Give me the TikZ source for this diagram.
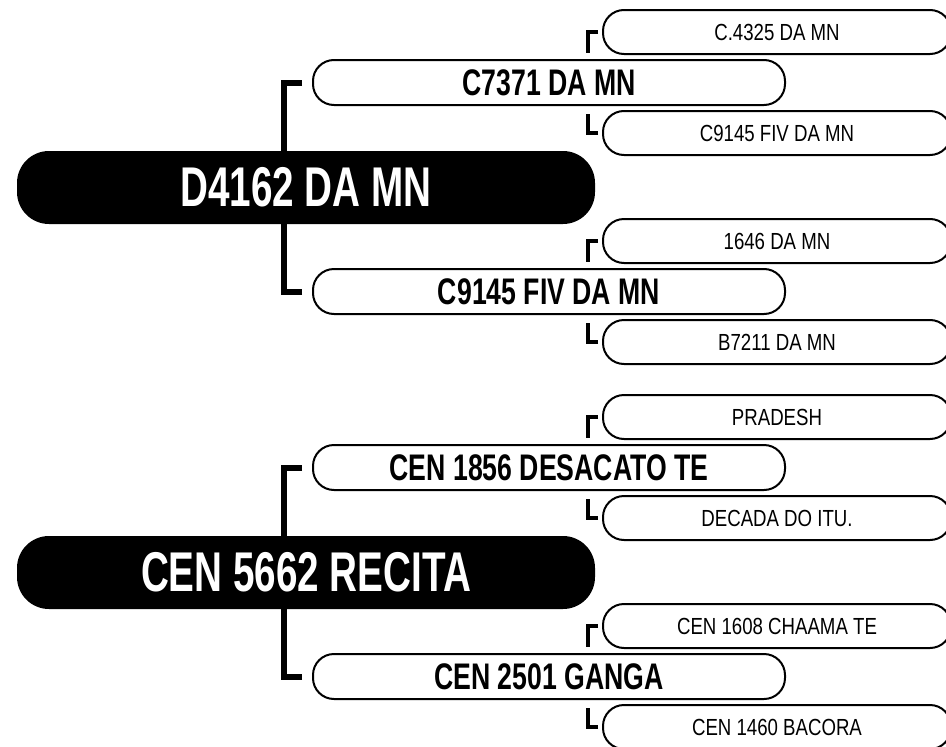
\documentclass[tikz,border=0pt]{standalone}
\usepackage{fontspec}
\usetikzlibrary{math}
\newfontfamily\rootfont{Liberation Sans}[FakeStretch=0.69]
\newfontfamily\midfont{Liberation Sans}[FakeStretch=0.72]
\newfontfamily\leaffont{Liberation Sans}[FakeStretch=0.80]

\tikzset{
  rootbox/.style={fill=black, text=white, rounded corners=32pt, inner sep=0pt,
    minimum width=578pt, minimum height=73pt,
    font=\rootfont\bfseries\fontsize{56}{56}\selectfont},
  midbox/.style={draw, line width=2pt, fill=white, rounded corners=21pt, inner sep=0pt,
    minimum width=472pt, minimum height=45pt,
    font=\midfont\bfseries\fontsize{37}{37}\selectfont},
  leafbox/.style={draw, line width=2pt, fill=white, rounded corners=21pt, inner sep=0pt,
    minimum width=348pt, minimum height=44pt,
    font=\leaffont\fontsize{23.3}{23.3}\selectfont},
  rootlink/.style={line width=6pt},
  leaflink/.style={line width=4pt},
}

\begin{document}
\begin{tikzpicture}[x=1pt,y=-1pt]
\tikzmath{
\xr=306;
\xa=549;
\xb=777;
\dy=385;
}
\useasboundingbox (0,0) rectangle (946,747);

%first tree
\node[rootbox] (r1) at (\xr,187.5) {D4162 DA MN};
\node[midbox] (a1) at (\xa,82.5) {C7371 DA MN};
\node[midbox] (a2) at (\xa,291.5) {C9145 FIV DA MN};
\node[leafbox] (b1) at (\xb,32) {C.4325 DA MN};
\node[leafbox] (b2) at (\xb,133) {C9145 FIV DA MN};
\node[leafbox] (b3) at (\xb,241) {1646 DA MN};
\node[leafbox] (b4) at (\xb,342) {B7211 DA MN};

%second tree
\node[rootbox] (r2) at (\xr,187.5+\dy) {CEN 5662 RECITA};
\node[midbox] (a3) at (\xa,82.5+\dy) {CEN 1856 DESACATO TE};
\node[midbox] (a4) at (\xa,291.5+\dy) {CEN 2501 GANGA};
\node[leafbox] (b5) at (\xb,32+\dy) {PRADESH};
\node[leafbox] (b6) at (\xb,133+\dy) {DECADA DO ITU.};
\node[leafbox] (b7) at (\xb,241+\dy) {CEN 1608 CHAAMA TE};
\node[leafbox] (b8) at (\xb,342+\dy) {CEN 1460 BACORA};

%links
\draw[rootlink] ([xshift=-10pt]a1.west) -| ([xshift=-22pt]r1.north);
\draw[rootlink] ([xshift=-10pt]a2.west) -| ([xshift=-22pt]r1.south);
\draw[rootlink] ([xshift=-10pt]a3.west) -| ([xshift=-22pt]r2.north);
\draw[rootlink] ([xshift=-10pt]a4.west) -| ([xshift=-22pt]r2.south);

\draw[leaflink] ([xshift=-4pt]b1.west) -| ([xshift=39pt,yshift=6pt]a1.north);
\draw[leaflink] ([xshift=-4pt]b2.west) -| ([xshift=39pt,yshift=-8pt]a1.south);
\draw[leaflink] ([xshift=-4pt]b3.west) -| ([xshift=39pt,yshift=6pt]a2.north);
\draw[leaflink] ([xshift=-4pt]b4.west) -| ([xshift=39pt,yshift=-8pt]a2.south);
\draw[leaflink] ([xshift=-4pt]b5.west) -| ([xshift=39pt,yshift=6pt]a3.north);
\draw[leaflink] ([xshift=-4pt]b6.west) -| ([xshift=39pt,yshift=-8pt]a3.south);
\draw[leaflink] ([xshift=-4pt]b7.west) -| ([xshift=39pt,yshift=6pt]a4.north);
\draw[leaflink] ([xshift=-4pt]b8.west) -| ([xshift=39pt,yshift=-8pt]a4.south);

\end{tikzpicture}
\end{document}
